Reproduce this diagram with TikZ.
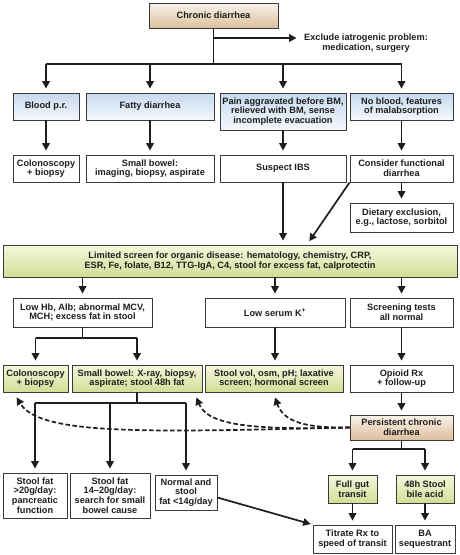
\documentclass[tikz,border=0pt]{standalone}
\usepackage{fontspec}
\setmainfont{Liberation Sans}
\usetikzlibrary{calc,arrows.meta}
\definecolor{ink}{HTML}{1E1E1E}
\definecolor{edge}{HTML}{3A3A3A}
\definecolor{bluetop}{HTML}{C6D9EF}
\definecolor{bluebot}{HTML}{F4F8FC}
\definecolor{greentop}{HTML}{F6F7DC}
\definecolor{greenbot}{HTML}{D2DD96}
\definecolor{tantop}{HTML}{F8F2E8}
\definecolor{tanbot}{HTML}{DCBF9C}
\tikzset{
	box/.style={draw=edge, line width=0.8pt, fill=white, text=ink, align=center, inner sep=1pt,
		font=\fontsize{9.2}{9.7}\selectfont\bfseries},
	bluebox/.style={box, top color=bluetop, bottom color=bluebot},
	greenbox/.style={box, top color=greentop, bottom color=greenbot},
	tanbox/.style={box, top color=tantop, bottom color=tanbot},
	link/.style={line width=1.7pt, draw=ink},
	arr/.style={link, -{Triangle[length=7.5pt,width=7.5pt]}, shorten >=4pt},
	dasharr/.style={arr, dash pattern=on 4.5pt off 2.5pt, shorten >=0pt}
}
\begin{document}
\begin{tikzpicture}[x=1pt,y=-1pt]
			%%%%% START %%%%%
			\useasboundingbox (0,0) rectangle (460,555);
			
			\node[tanbox, minimum width=129pt, minimum height=25pt] (chronic) at (213.5,15.5) {Chronic diarrhea};
			\node[text=ink, align=center, font=\fontsize{9.2}{9.7}\selectfont\bfseries] (exclude) at (366,43) {Exclude iatrogenic problem:\\medication, surgery};
			
			% first row
			\node[bluebox, minimum width=66pt, minimum height=27pt] (blood) at (46,106.5) {Blood p.r.};
			\node[bluebox, minimum width=128pt, minimum height=27pt] (fatty) at (150,106.5) {Fatty diarrhea};
			\node[bluebox, minimum width=126pt, minimum height=37pt] (pain) at (283,111.5) {Pain aggravated before BM,\\relieved with BM, sense\\incomplete evacuation};
			\node[bluebox, minimum width=103pt, minimum height=27pt] (noblood) at (401.5,106.5) {No blood, features\\of malabsorption};
			
			\node[box, minimum width=66pt, minimum height=27pt] (colon) at (46,168.5) {Colonoscopy\\+ biopsy};
			\node[box, minimum width=128pt, minimum height=27pt] (bowel) at (150,168.5) {Small bowel:\\imaging, biopsy, aspirate};
			\node[box, minimum width=126pt, minimum height=27pt] (ibs) at (283,168.5) {Suspect IBS};
			\node[box, minimum width=103pt, minimum height=27pt] (functional) at (401.5,168.5) {Consider functional\\diarrhea};
			\node[box, minimum width=103pt, minimum height=29pt] (dietary) at (401.5,217.5) {Dietary exclusion,\\e.g., lactose, sorbitol};
			
			\node[greenbox, minimum width=454pt, minimum height=32pt] (screen) at (230,261) {Limited screen for organic disease: hematology, chemistry, CRP,\\ESR, Fe, folate, B12, TTG-IgA, C4, stool for excess fat, calprotectin};
			
			% after screen
			\node[box, minimum width=139pt, minimum height=29pt] (lowhb) at (82.5,312.5) {Low Hb, Alb; abnormal MCV,\\MCH; excess fat in stool};
			\node[box, minimum width=140pt, minimum height=29pt] (lowk) at (275,312.5) {Low serum K\textsuperscript{+}};
			\node[box, minimum width=103pt, minimum height=29pt] (normaltests) at (401.5,312.5) {Screening tests\\all normal};
			
			\node[greenbox, minimum width=65pt, minimum height=27pt] (colonb) at (35.5,378.5) {Colonoscopy\\+ biopsy};
			\node[greenbox, minimum width=130pt, minimum height=27pt] (bowelb) at (137,378.5) {Small bowel: X-ray, biopsy,\\aspirate; stool 48h fat};
			\node[greenbox, minimum width=138pt, minimum height=27pt] (stoolvol) at (274,378.5) {Stool vol, osm, pH; laxative\\screen; hormonal screen};
			\node[box, minimum width=103pt, minimum height=27pt] (opioid) at (401.5,378.5) {Opioid Rx\\+ follow-up};
			\node[tanbox, minimum width=103pt, minimum height=25pt] (persist) at (401.5,427.5) {Persistent chronic\\diarrhea};
			
			% bottom
			\node[box, minimum width=64pt, minimum height=45pt] (fatpanc) at (35,495.5) {Stool fat\\>20g/day:\\pancreatic\\function};
			\node[box, minimum width=80pt, minimum height=45pt] (fatsmall) at (110,495.5) {Stool fat\\14--20g/day:\\search for small\\bowel cause};
			\node[box, minimum width=62pt, minimum height=35pt] (fatnormal) at (186,492.5) {Normal and\\stool\\fat <14g/day};
			\node[greenbox, minimum width=49pt, minimum height=28pt] (gut) at (352.5,489) {Full gut\\transit};
			\node[greenbox, minimum width=58pt, minimum height=28pt] (bile) at (425,489) {48h Stool\\bile acid};
			\node[box, minimum width=79pt, minimum height=28pt] (titrate) at (352.5,539) {Titrate Rx to\\speed of transit};
			\node[box, minimum width=60pt, minimum height=28pt] (seq) at (425,539) {BA\\sequestrant};
			
			% connectors
			\coordinate (iat) at (213.5,38);
			\coordinate (split1) at (213.5,64);
			\draw[link] (chronic) -- (split1);
			\draw[arr] (iat) -- (iat -| exclude.west);
			\draw[link] (split1 -| blood) -- (split1 -| noblood);
			\foreach \n in {blood,fatty,pain,noblood}
				\draw[arr] (split1 -| \n) -- (\n);
			
			\draw[arr] (blood) -- (colon);
			\draw[arr] (fatty) -- (bowel);
			\draw[arr] (pain) -- (ibs);
			\draw[arr] (noblood) -- (functional);
			\draw[arr] (functional) -- (dietary);
			\draw[arr] (ibs) -- (ibs |- screen.north);
			\draw[arr] (functional.south west) -- ($(screen.north)+(77,0)$);
			
			\foreach \n in {lowhb,lowk,normaltests}
				\draw[arr] (screen.south -| \n) -- (\n);
			
			\coordinate (split2) at (82.5,338);
			\draw[link] (lowhb) -- (split2);
			\draw[link] (split2 -| colonb) -- (split2 -| bowelb);
			\draw[arr] (split2 -| colonb) -- (colonb);
			\draw[arr] (split2 -| bowelb) -- (bowelb);
			\draw[arr] (lowk.south) -- (lowk.south |- stoolvol.north);
			\draw[arr] (normaltests) -- (opioid);
			\draw[arr] (opioid) -- (persist);
			
			\coordinate (split3) at (137,403);
			\draw[link] (bowelb) -- (split3);
			\draw[link] (split3 -| fatpanc) -- (split3 -| fatnormal);
			\foreach \n in {fatpanc,fatsmall,fatnormal}
				\draw[arr] (split3 -| \n) -- (\n);
			
			\coordinate (split4) at (401.5,449);
			\draw[link] (persist) -- (split4);
			\draw[link] (split4 -| gut) -- (split4 -| bile);
			\draw[arr] (split4 -| gut) -- (gut);
			\draw[arr] (split4 -| bile) -- (bile);
			\draw[arr] (gut) -- (titrate);
			\draw[arr] (bile) -- (seq);
			\draw[arr, shorten >=2pt] ($(fatnormal.east)+(0,5)$) -- (titrate.north west);
			
			% dashed returns
			\coordinate (back1) at ($(colonb.south west)+(14,5)$);
			\coordinate (back2) at ($(bowelb.south east)+(-6,5)$);
			\coordinate (back3) at ($(stoolvol.south)+(1,5)$);
			\draw[dasharr] (persist.west) .. controls (150,432) and (40,436) .. (back1);
			\draw[dasharr] (persist.west) .. controls (255,430) and (208,426) .. (back2);
			\draw[dasharr] (persist.west) .. controls (308,428) and (284,423) .. (back3);
			
			%%%%% END %%%%%
\end{tikzpicture}
\end{document}
